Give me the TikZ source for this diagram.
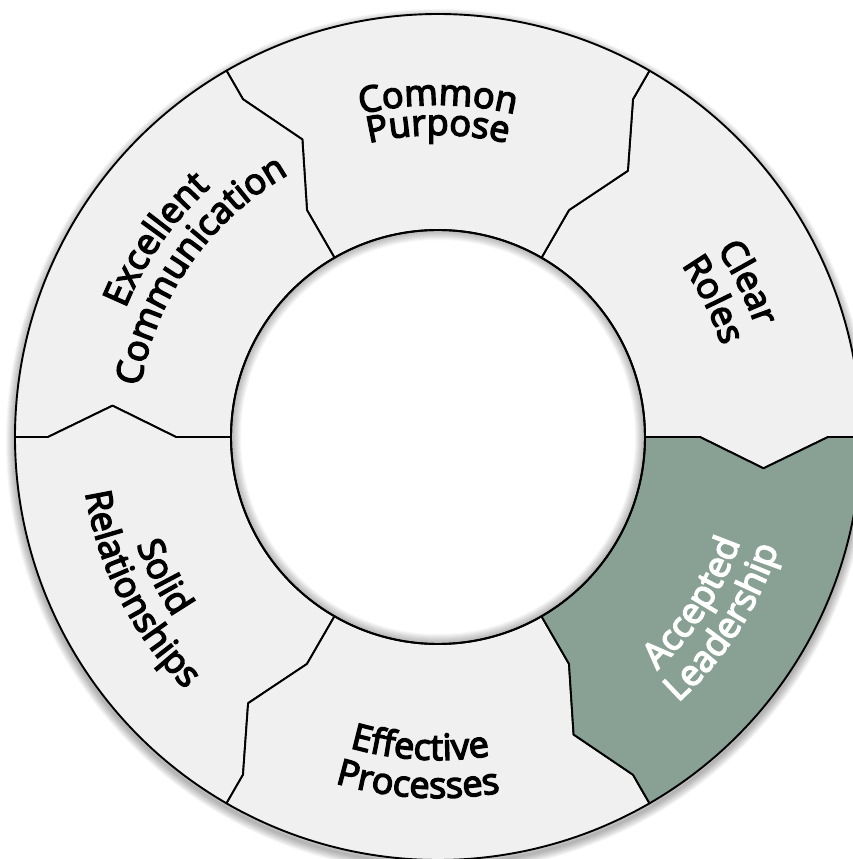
\documentclass[tikz,border=0pt]{standalone}
\usepackage{fontspec}
\newfontfamily\labelfamily{Open Sans}[FakeBold=4]
\usetikzlibrary{decorations.text}

\definecolor{piecegray}{RGB}{240,240,240}
\definecolor{leadgreen}{RGB}{136,161,148}

\newcommand\lblfont{\labelfamily\fontsize{36}{36}\selectfont}

% one piece of the ring, #2 = start angle
\newcommand\ringpiece[2][]{%
  \draw[piece,#1] (#2:\rIn) -- (#2:\rKnee) -- ({#2-5.5}:\rTip) -- (#2:\rBack) -- (#2:\rOut)
    arc[start angle=#2, end angle=#2+60, radius=\rOut]
    -- ({#2+60}:\rBack) -- ({#2+54.5}:\rTip) -- ({#2+60}:\rKnee) -- ({#2+60}:\rIn)
    arc[start angle=#2+60, end angle=#2, radius=\rIn] -- cycle;}

% text on an arc, clockwise (upper half) or counterclockwise (lower half)
\newcommand\upperlabel[4][black]{%
  \path[decorate,decoration={text along path,text align=center,text color=#1,text={|\lblfont|#4}}]
    ({#2+50}:#3) arc[start angle=#2+50, end angle=#2-50, radius=#3];}
\newcommand\lowerlabel[4][black]{%
  \path[decorate,decoration={text along path,text align=center,text color=#1,text={|\lblfont|#4}}]
    ({#2-50}:#3) arc[start angle=#2-50, end angle=#2+50, radius=#3];}

\begin{document}
\begin{tikzpicture}[x=1pt,y=1pt,
  piece/.style={draw=black,line width=1.9pt,line join=round,fill=piecegray}]
\def\rIn{207}
\def\rKnee{262}
\def\rTip{327}
\def\rBack{390}
\def\rOut{423}
\useasboundingbox[fill=white] (-438,-422) rectangle (414,437);

% soft shadow round the ring
\foreach \w in {2,4,...,18}
  \draw[black,opacity=0.035,line width=\w pt] (0,-4) circle[radius=\rOut];

\ringpiece{0}
\ringpiece{60}
\ringpiece{120}
\ringpiece{180}
\ringpiece{240}
\ringpiece[fill=leadgreen]{300}

% shadow inside the hole
\begin{scope}
  \clip (0,0) circle[radius=\rIn];
  \foreach \w in {2,4,...,20}
    \draw[black,opacity=0.03,line width=\w pt] (0,0) circle[radius=\rIn];
\end{scope}
\draw[line width=1.9pt] (0,0) circle[radius=\rIn];

\upperlabel{90}{332}{Common}
\upperlabel{90}{302}{Purpose}
\upperlabel{26.5}{336}{Clear}
\upperlabel{26.5}{298}{Roles}
\upperlabel{145}{338}{Excellent}
\upperlabel{145}{302}{Communication}
\lowerlabel{207}{320}{Solid}
\lowerlabel{207}{357}{Relationships}
\lowerlabel{266.7}{323}{Effective}
\lowerlabel{266.7}{361}{Processes}
\lowerlabel[white]{327}{320}{Accepted}
\lowerlabel[white]{327}{358}{Leadership}
%\draw[red] (0,0) circle[radius=300];
\end{tikzpicture}
\end{document}
